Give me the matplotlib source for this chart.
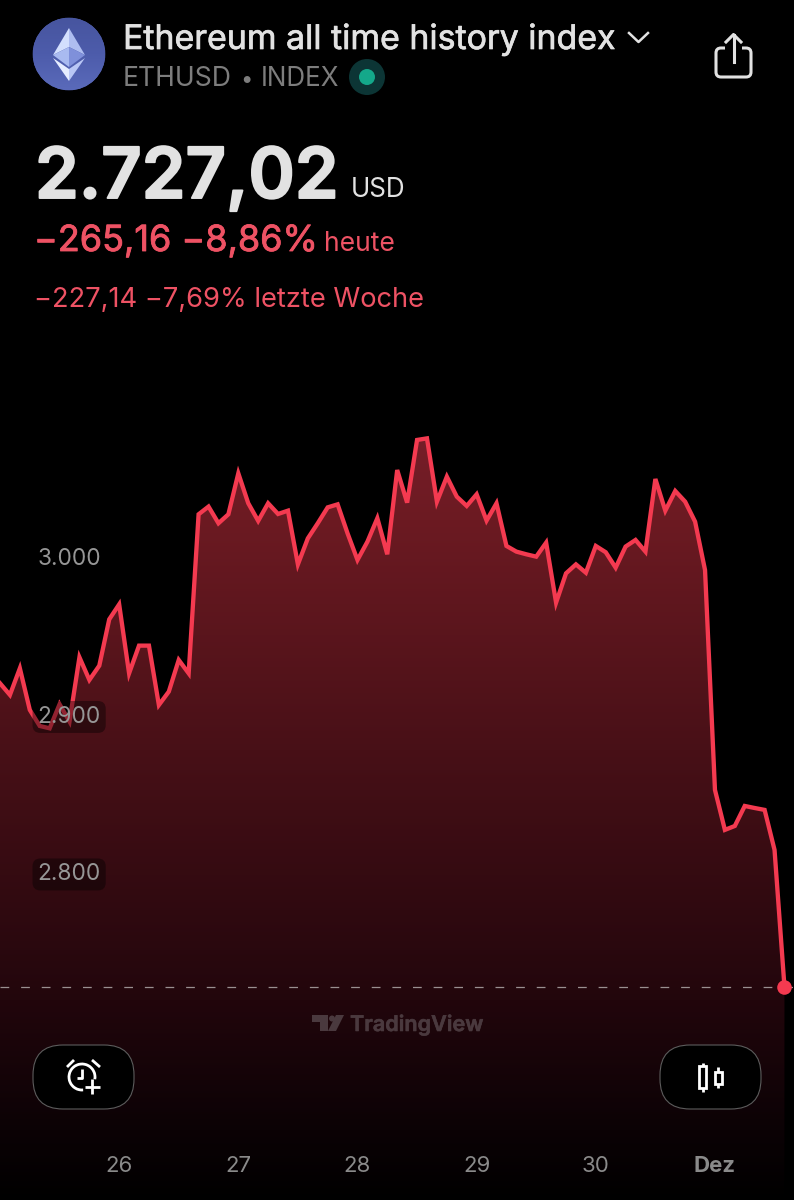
import numpy as np
import matplotlib
matplotlib.use("Agg")
import matplotlib.pyplot as plt
import matplotlib.patheffects as pe
from matplotlib.patches import Circle, Polygon, FancyBboxPatch, Arc, Rectangle

plt.rcParams['font.family'] = ['Inter', 'DejaVu Sans']

# ---- data ----
prices = [2919.8, 2912.4, 2929.3, 2902.9, 2892.7, 2891.2, 2906.5, 2895.5, 2936.3, 2921.9,
          2931.0, 2960.4, 2969.9, 2926.1, 2943.7, 2943.7, 2906.0, 2914.5, 2934.6, 2926.1,
          3027.1, 3032.0, 3021.4, 3027.1, 3053.1, 3034.1, 3022.9, 3034.1, 3027.3, 3029.4,
          2995.3, 3011.8, 3021.4, 3031.5, 3033.4, 3015.0, 2998.1, 3009.7, 3024.6, 3001.7,
          3055.2, 3034.5, 3074.3, 3075.3, 3035.1, 3051.0, 3038.3, 3032.4, 3039.8, 3023.1,
          3034.1, 3007.0, 3003.4, 3001.7, 3000.2, 3009.1, 2971.0, 2989.6, 2995.3, 2990.0,
          3007.0, 3003.0, 2993.2, 3006.6, 3010.8, 3003.4, 3049.5, 3029.4, 3041.9, 3035.1,
          3022.4, 2991.7, 2852.1, 2826.7, 2829.2, 2841.9, 2840.6, 2839.4, 2814.0, 2727.02]
date_ticks = [12, 24, 36, 48, 60, 72]
date_labels = ['26', '27', '28', '29', '30', 'Dez']
price_ticks = [3000, 2900, 2800]
price_labels = ['3.000', '2.900', '2.800']

LINE = '#f43a50'
W, H = 794, 1200
fig = plt.figure(figsize=(W / 100, H / 100), dpi=100, facecolor='black')
ax = fig.add_axes([0, 0, 1, 1], facecolor='black')
idx = np.arange(len(prices))
xlim = (0, W / 9.93)
ylim = (2591.7, 3353.65)

# gradient under line
stops_px = [0, 440, 520, 750, 1000, 1130, 1200]
stops_rgb = np.array([(118, 30, 40), (118, 30, 40), (108, 26, 34), (72, 16, 23),
                      (34, 6, 12), (11, 2, 5), (0, 0, 0)]) / 255
rows = np.arange(H)
grad = np.stack([np.interp(rows, stops_px, stops_rgb[:, c]) for c in range(3)], axis=1)[:, None, :]
poly = ax.fill_between(idx, prices, ylim[0], color='none', lw=0)
im = ax.imshow(grad, extent=(xlim[0], xlim[1], ylim[0], ylim[1]), aspect='auto', origin='upper', zorder=1)
im.set_clip_path(poly.get_paths()[0], transform=ax.transData)

ax.plot(idx, prices, color=LINE, lw=3.1, solid_joinstyle='miter', zorder=2)
ax.axhline(prices[-1], color='#9a8f90', lw=0.9, dashes=(7, 9.5), zorder=1.5)
ax.scatter(idx[-1], prices[-1], s=110, color=LINE, linewidths=0, zorder=3)

ax.set_xlim(xlim)
ax.set_ylim(ylim)
ax.set_axisbelow(False)
for s in ax.spines.values():
    s.set_visible(False)
ax.set_xticks(date_ticks, date_labels)
ax.set_yticks(price_ticks, price_labels)
ax.tick_params(axis='x', length=0, pad=-31.5, labelsize=16, labelcolor='#8a8a8a')
ax.tick_params(axis='y', length=0, pad=-27, labelsize=16.3, labelcolor='#969696')
for t in ax.get_yticklabels():
    t.set_ha('left')
    t.set_bbox(dict(boxstyle='round,pad=0.22,rounding_size=0.35', fc=(0, 0, 0, 0.4), ec='none'))
ax.get_xticklabels()[-1].set_fontweight('bold')

# ---- overlay in pixel coordinates for the app's interface ----
ui = fig.add_axes([0, 0, 1, 1], facecolor='none', zorder=5)
ui.set_xlim(0, W)
ui.set_ylim(H, 0)
ui.axis('off')


def txt(x, y, s, px, color, weight='normal', bold=0.0, **kw):
    t = ui.text(x, y, s, fontsize=px * 0.72, color=color, fontweight=weight, va='baseline', ha='left', **kw)
    if bold:
        t.set_path_effects([pe.withStroke(linewidth=bold, foreground=color)])


WHITE = '#e2e2e2'
RED = '#ee5264'
txt(123, 49, 'Ethereum all time history index', 33.9, WHITE, bold=0.5)
txt(123, 86, 'ETHUSD', 26.5, '#7d7d7d')
txt(240, 86, '•', 22, '#7d7d7d')
txt(261, 86, 'INDEX', 26, '#7d7d7d')
txt(35, 198, '2.727,02', 70.3, WHITE, 'semibold', bold=1.4)
txt(351, 197, 'USD', 26, WHITE)
txt(34, 251, '−265,16 −8,86%', 36, RED, bold=0.6)
txt(324, 251, 'heute', 26.5, RED)
txt(34, 307, '−227,14 −7,69% letzte Woche', 27.3, RED)

# logo
logo = Circle((69, 54), 36.3, fc='#4f5fae', ec='none')
ui.add_patch(logo)
g = np.linspace(0, 1, 64)[:, None]
lg = ui.imshow(g, extent=(33, 105, 90, 18), cmap=matplotlib.colors.LinearSegmentedColormap.from_list(
    'l', ['#47559f', '#4d5cab', '#5a6aba']), aspect='auto', zorder=1)
lg.set_clip_path(logo)
ui.set_xlim(0, W)
ui.set_ylim(H, 0)
for pts, c in [([(69, 28), (53, 55), (69, 47)], '#d3dffd'),
               ([(69, 28), (85, 55), (69, 47)], '#aebdf0'),
               ([(53, 55), (69, 47), (69, 67)], '#a9baf0'),
               ([(85, 55), (69, 47), (69, 67)], '#7f90da'),
               ([(53, 58), (69, 69), (69, 81)], '#e6edff'),
               ([(85, 58), (69, 69), (69, 81)], '#b9c7f5')]:
    ui.add_patch(Polygon(pts, fc=c, ec='none', zorder=2))

# market status dot
ui.add_patch(Circle((367, 77), 18, fc='#0c3535', ec='none'))
ui.add_patch(Circle((367, 77), 8, fc='#14a88a', ec='none'))

# chevron
ui.plot([629, 638.5, 648], [33, 42, 33], color=WHITE, lw=1.8)

# share icon
ui.add_patch(FancyBboxPatch((716, 48), 35, 29, boxstyle='round,pad=0,rounding_size=5',
                            fc='none', ec=WHITE, lw=2.2))
ui.add_patch(Rectangle((725, 44), 17, 8, fc='black', ec='none', zorder=3))
ui.plot([733.5, 733.5], [35, 62], color=WHITE, lw=2.2, zorder=4)
ui.plot([726, 733.5, 741], [42, 34.5, 42], color=WHITE, lw=2.2, zorder=4)

# TradingView mark
TV = '#4a393e'
ui.add_patch(Polygon([(312, 1015), (328, 1015), (328, 1031), (320, 1031), (320, 1022), (312, 1022)], fc=TV, ec='none'))
ui.add_patch(Circle((332, 1018.5), 3, fc=TV, ec='none'))
ui.add_patch(Polygon([(336, 1015), (344, 1015), (336, 1031), (328, 1031)], fc=TV, ec='none'))
txt(350, 1031, 'TradingView', 21.6, TV, 'semibold', bold=0.4)

# buttons
for x0 in (33, 660):
    ui.add_patch(FancyBboxPatch((x0, 1045), 101, 64, boxstyle='round,pad=0,rounding_size=30',
                                fc='black', ec='#5c5c5c', lw=0.8, zorder=6))
ICON = dict(color='white', lw=2, zorder=7, solid_capstyle='butt')
ui.add_patch(Arc((82, 1077), 26, 26, theta1=85, theta2=10, ec='white', lw=2, zorder=7))
ui.plot([67, 74], [1067, 1060], **ICON)
ui.plot([92, 100], [1060, 1067], **ICON)
ui.plot([82, 82, 77], [1069, 1078, 1078], **ICON)
ui.plot([85, 100], [1087, 1087], **ICON)
ui.plot([92, 92], [1079, 1094], **ICON)

for rx0, rx1, ry0, ry1, wy0, wy1 in [(699, 706, 1066, 1088, 1063, 1092), (714.5, 722, 1072, 1084, 1067, 1088)]:
    ui.add_patch(Rectangle((rx0, ry0), rx1 - rx0, ry1 - ry0, fc='none', ec='white', lw=2, zorder=7))
    xm = (rx0 + rx1) / 2
    ui.plot([xm, xm], [wy0, ry0], **ICON)
    ui.plot([xm, xm], [ry1, wy1], **ICON)

fig.savefig('out.png', dpi=100, facecolor='black')
